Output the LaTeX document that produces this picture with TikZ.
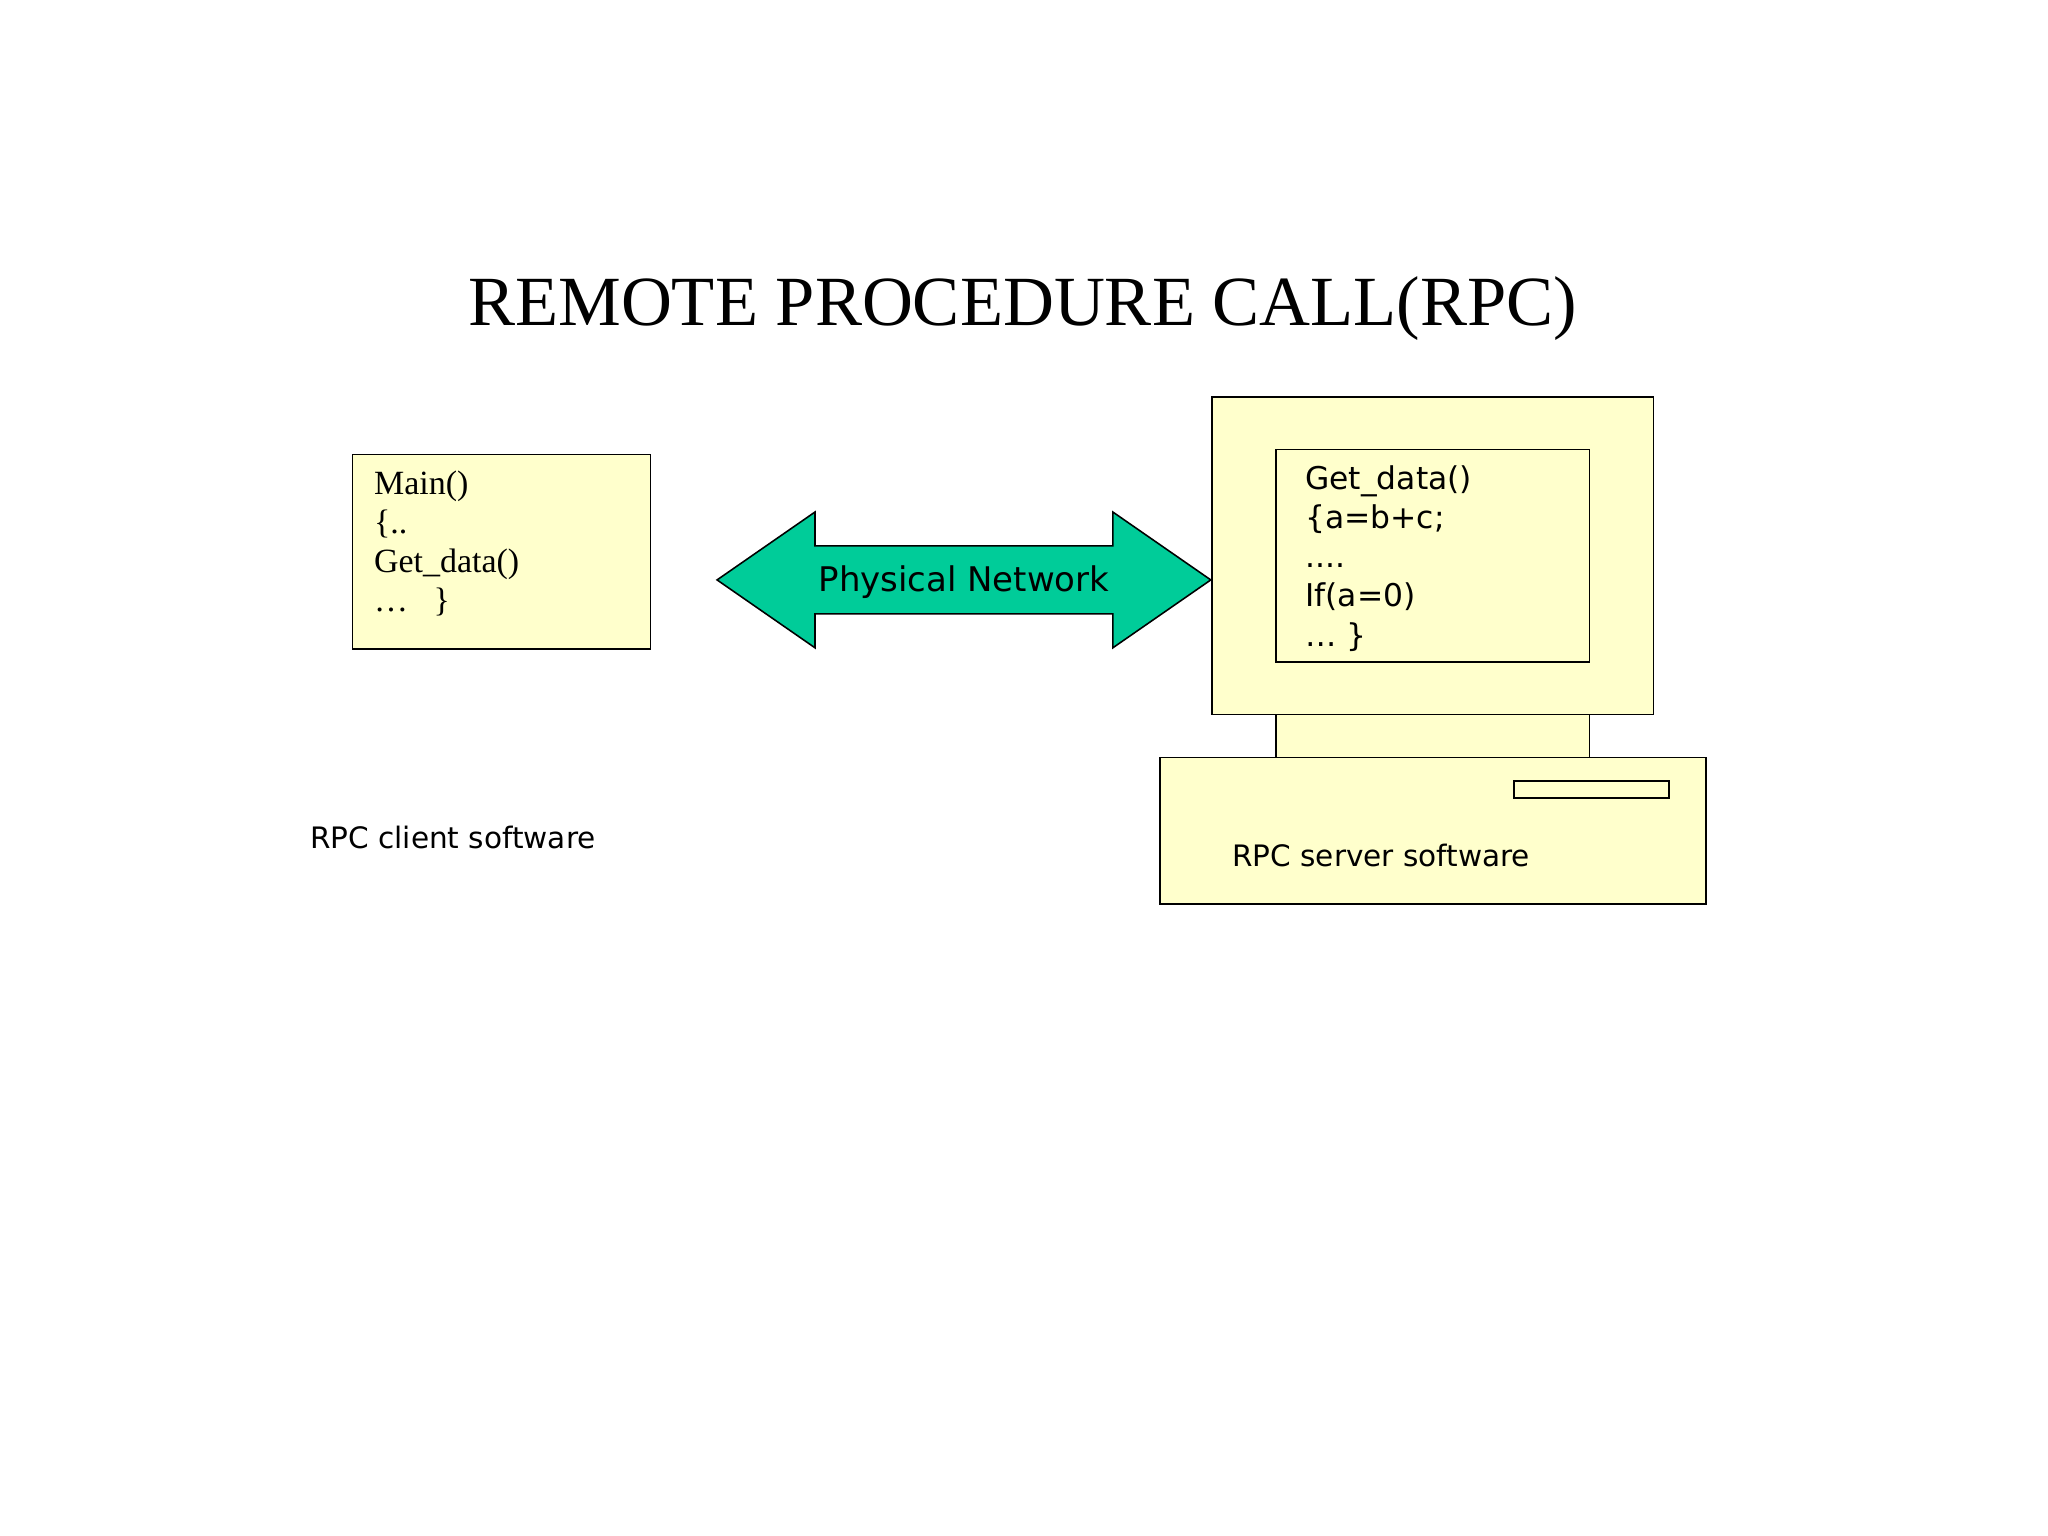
\documentclass[tikz,border=0pt]{standalone}
\usepackage{fontspec}
\setmainfont{Liberation Serif}
\newfontfamily\vsans{DejaVu Sans}
\definecolor{pale}{RGB}{255,255,204}
\definecolor{netgreen}{RGB}{0,204,153}
\begin{document}
\begin{tikzpicture}[x=0.5pt,y=-0.5pt,
  box/.style={draw=black,fill=pale,line width=0.6pt},
  code/.style={anchor=north west,align=left,inner sep=0pt,font=\fontsize{13}{15}\selectfont},
  scode/.style={anchor=north west,align=left,inner sep=0pt,font=\vsans\fontsize{12}{15}\selectfont},
  lbl/.style={anchor=west,inner sep=0pt,font=\vsans\fontsize{11.3}{13}\selectfont}]
\useasboundingbox[fill=white] (0,0) rectangle (1568,1176);
\node[font=\fontsize{27}{30}\selectfont] (title) at (783,236) {REMOTE PROCEDURE CALL(RPC)};
% client
\draw[box] (270,348) rectangle (498,497);
\node[code] (client) at (286,360) {Main()\\\{..\\Get\_data()\\\dots\ \ \ \}};
% arrow
\draw[fill=netgreen,line width=0.6pt] (549,444) -- (624,392) -- (624,418) -- (852,418) -- (852,392) -- (927,444) -- (852,496) -- (852,470) -- (624,470) -- (624,496) -- cycle;
\node[font=\vsans\fontsize{13}{15}\selectfont] (net) at (738,446) {Physical Network};
% server
\draw[box] (928,304) rectangle (1266,547);
\draw[box] (977,344) rectangle (1217,507);
\node[scode] (server) at (999,356) {Get\_data()\\\{a=b+c;\\....\\If(a=0)\\\dots\ \}};
\draw[box] (977,547) rectangle (1217,580);
\draw[box] (888,580) rectangle (1306,692);
\draw[box] (1159,598) rectangle (1278,611);
\node[lbl] (slbl) at (943,655) {RPC server software};
\node[lbl] (clbl) at (237,641) {RPC client software};
\end{tikzpicture}
\end{document}
